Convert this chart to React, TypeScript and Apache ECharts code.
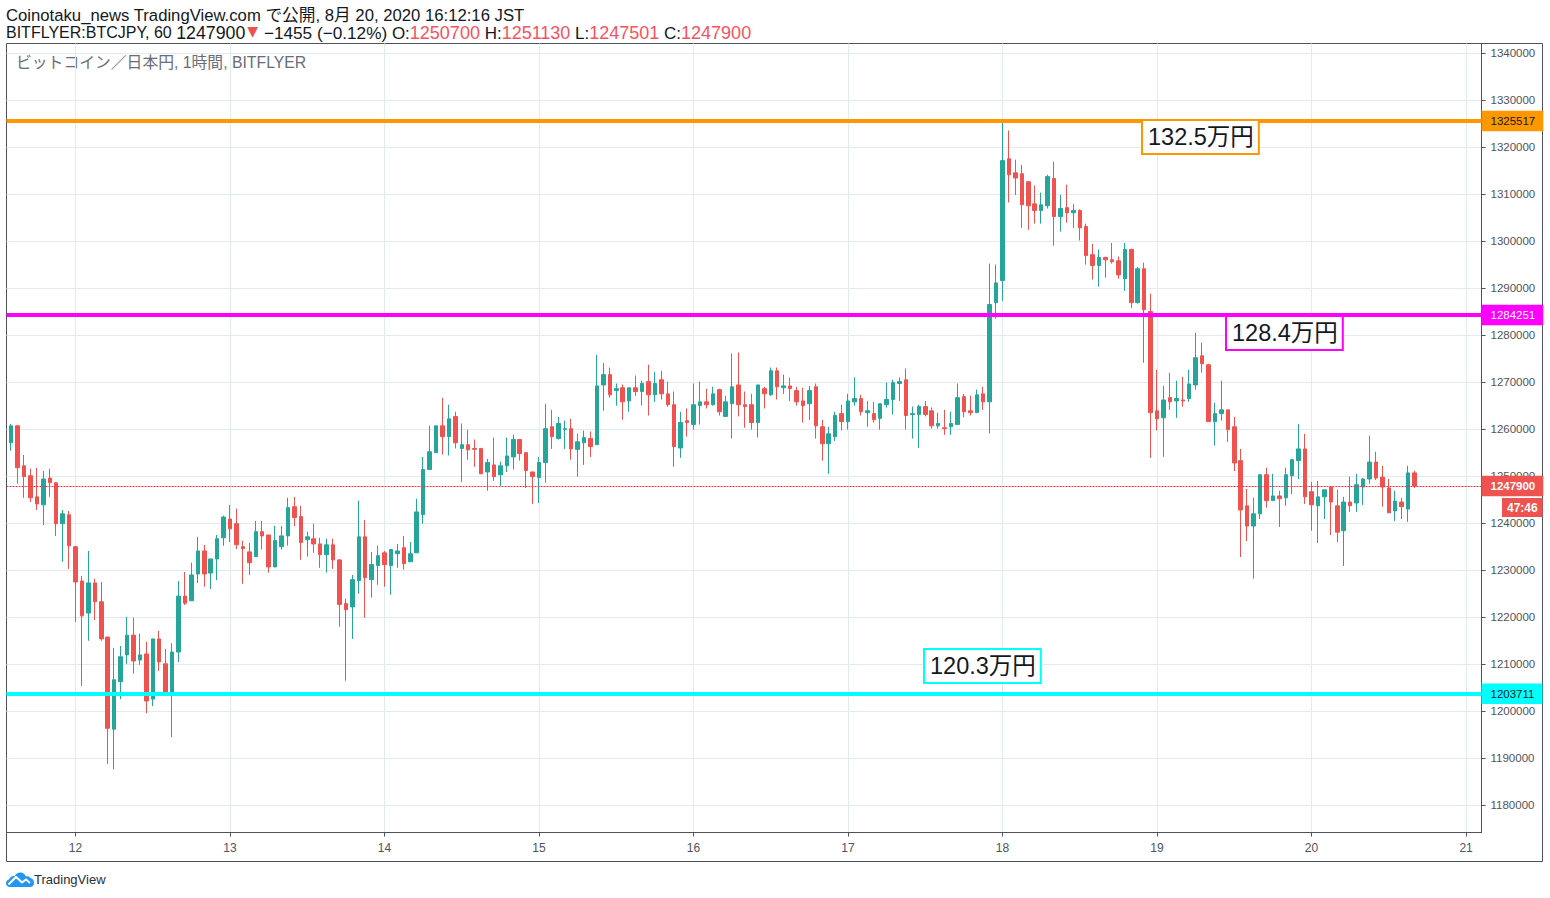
import React, { useEffect, useRef } from "react";
import * as echarts from "echarts";

// [open, close, low, high] in yen, one list per calendar day (1 hour candles)
const aug11 = [[1257100,1260700,1255400,1261100],[1260700,1251800,1248400,1260900],[1252200,1249900,1245400,1254500],[1250100,1245400,1244500,1251600],[1245600,1244100,1242800,1251800],[1243900,1249400,1239600,1251100],[1249600,1248600,1245600,1251600],[1248600,1239900,1237300,1248600],[1239900,1242000,1231800,1242800],[1241800,1235200,1230300,1242600]];
const aug12 = [[1235000,1227500,1219000,1235200],[1227700,1220300,1205400,1228800],[1220900,1227300,1215000,1234100],[1227300,1223300,1219400,1228200],[1223300,1215400,1215000,1227500],[1215800,1196400,1188800,1215800],[1196200,1206700,1187700,1213500],[1206300,1211600,1202600,1213900],[1212000,1216200,1210100,1220100],[1216200,1210700,1208000,1219900],[1210900,1212000,1209900,1216500],[1212200,1202200,1199600,1214800],[1202600,1215400,1201100,1215400],[1215400,1210500,1208600,1217100],[1210100,1203500,1203500,1213300],[1203500,1212600,1194500,1214500],[1212600,1224500,1210500,1227700],[1224500,1223000,1222600,1229600],[1223500,1229000,1223500,1231600],[1229200,1234100,1227300,1237100],[1234100,1229200,1226500,1235400],[1229400,1232400,1226000,1232400],[1232400,1236700,1227900,1237500],[1236900,1241300,1235200,1241600]];
const aug13 = [[1240900,1238800,1236000,1243900],[1239900,1235400,1234500,1243100],[1235000,1234600,1227100,1236300],[1233900,1231600,1229000,1235800],[1232900,1238200,1232900,1240500],[1238200,1237300,1234400,1240500],[1237500,1230700,1229500,1237500],[1230700,1236300,1230700,1239400],[1235000,1237300,1234400,1239400],[1237300,1243300,1235200,1245400],[1243500,1241200,1239400,1245600],[1241400,1235900,1232200,1243700],[1236500,1237100,1232900,1238200],[1236700,1235600,1233700,1239900],[1235600,1233300,1230500,1236900],[1233300,1235400,1229500,1236700],[1235400,1232200,1230300,1236700],[1232200,1222700,1218000,1232400],[1222900,1221600,1206500,1224000],[1222200,1228000,1215400,1229000],[1227800,1237100,1225000,1244800],[1237100,1228400,1219900,1240700],[1228000,1231200,1224200,1233900],[1231000,1233100,1226900,1235200]];
const aug14 = [[1233700,1231200,1226500,1234100],[1231000,1234400,1224800,1234400],[1233500,1234100,1230500,1235600],[1234800,1231400,1230100,1237300],[1231800,1233500,1231800,1236000],[1233700,1242400,1233700,1245200],[1241800,1251400,1239900,1254100],[1251400,1255200,1251400,1260700],[1255000,1260700,1255000,1260700],[1260700,1258400,1254600,1266700],[1258400,1262200,1254400,1265200],[1262700,1257100,1255900,1263700],[1255900,1256700,1248800,1261200],[1256700,1255600,1253500,1259900],[1255900,1255700,1252000,1257800],[1255900,1250500,1250500,1255900],[1250900,1252900,1246900,1253700],[1252400,1249900,1249000,1258200],[1250300,1252200,1247900,1253100],[1252200,1254300,1250900,1258200],[1254100,1257800,1251400,1258800],[1257800,1254800,1253300,1257800],[1255000,1251200,1247500,1255000],[1250900,1249900,1244100,1250900]];
const aug15 = [[1249700,1252900,1244300,1254100],[1252900,1260100,1248600,1265400],[1260500,1258400,1255800,1264100],[1258000,1261200,1257800,1262600],[1259900,1260100,1255800,1261800],[1260100,1255800,1253500,1262200],[1255700,1257300,1249900,1259000],[1257100,1258200,1252400,1259700],[1258000,1256300,1254100,1259500],[1256700,1269200,1256700,1275800],[1269400,1271600,1263900,1274100],[1271600,1267300,1266700,1273100],[1268200,1268600,1265000,1269700],[1268800,1265800,1262000,1269500],[1266000,1268800,1263700,1268800],[1268800,1268000,1267100,1271400],[1268000,1269700,1265000,1270300],[1270100,1267300,1262900,1273700],[1267300,1269700,1265800,1272200],[1270500,1267500,1266300,1272400],[1267500,1265200,1264800,1270100],[1265200,1256300,1252000,1268000],[1256000,1261400,1253900,1263700],[1261800,1261400,1258400,1264400]];
const aug16 = [[1261000,1265200,1259900,1269700],[1265000,1265800,1261000,1270100],[1265800,1265200,1264400,1268600],[1265200,1267500,1265000,1269000],[1268400,1263700,1262900,1268600],[1262700,1265800,1262700,1267100],[1265400,1269000,1258000,1276100],[1269400,1265200,1262700,1276300],[1265200,1264800,1260300,1268000],[1265200,1261400,1259900,1267500],[1261400,1269400,1258200,1269400],[1268600,1267500,1264400,1269000],[1267300,1272400,1267100,1273100],[1272400,1269000,1266300,1273100],[1268800,1269200,1267500,1271600],[1269200,1268600,1266000,1271000],[1268200,1265800,1265000,1269000],[1266000,1265000,1261400,1268800],[1265400,1268200,1262000,1269200],[1269000,1260700,1258000,1269700],[1260500,1256900,1253300,1262000],[1256900,1259000,1250500,1260500],[1258400,1262900,1257500,1263700],[1263300,1261600,1259700,1265200]];
const aug17 = [[1261600,1266000,1259900,1267500],[1265800,1266500,1265000,1271000],[1266500,1263700,1262900,1267300],[1263500,1263900,1260500,1266000],[1263300,1262000,1261400,1265800],[1262300,1265400,1259900,1265400],[1265200,1266300,1264600,1269900],[1266300,1269900,1263100,1270500],[1269700,1270100,1266000,1271000],[1270500,1262900,1259900,1272900],[1263100,1263300,1258000,1264800],[1263100,1264800,1256000,1265200],[1264800,1263100,1262700,1266000],[1263900,1260700,1260100,1264600],[1260700,1261200,1260100,1263500],[1260300,1260100,1258800,1264100],[1260500,1261200,1258800,1263700],[1261000,1266700,1261000,1269700],[1266900,1263700,1262500,1267500],[1263900,1263500,1262900,1267100],[1263500,1267300,1263500,1268400],[1267500,1265800,1264100,1269000],[1265800,1286500,1259100,1295200],[1286900,1291100,1283500,1295000]];
const aug18 = [[1291600,1317100,1287300,1325500],[1317500,1314100,1308200,1323500],[1314500,1313400,1309800,1317300],[1314300,1307700,1302800,1316200],[1312600,1307500,1302400,1312600],[1307900,1306500,1303700,1311800],[1306500,1307700,1303700,1310300],[1307500,1313700,1306900,1314100],[1313300,1305200,1299000,1316900],[1305200,1306900,1302000,1309800],[1307100,1306000,1303900,1312000],[1306000,1306500,1302800,1307900],[1306500,1302800,1300100,1306700],[1303100,1296900,1295000,1303700],[1297100,1294800,1291800,1299400],[1294800,1296500,1290300,1298200],[1296500,1296000,1292200,1296700],[1296000,1295600,1295200,1299600],[1295800,1292800,1292000,1296700],[1292000,1298200,1289400,1299600],[1298200,1286900,1285800,1298400],[1286900,1294100,1286700,1294500],[1294100,1285400,1274100,1295400],[1285000,1263500,1253900,1288800]];
const aug19 = [[1263900,1262200,1259700,1272600],[1262400,1266200,1254100,1269200],[1266700,1265800,1264100,1272000],[1266000,1266500,1262400,1270300],[1266200,1266000,1264800,1271100],[1266500,1269600,1265800,1272600],[1269400,1275200,1268400,1280500],[1275600,1273900,1272000,1278400],[1273700,1261600,1261600,1273900],[1261600,1263300,1256500,1265600],[1263300,1264100,1261800,1270300],[1264100,1259900,1257300,1264100],[1260500,1252800,1251100,1262600],[1253300,1242800,1232800,1255800],[1243700,1239400,1236200,1247300],[1239400,1242000,1228200,1245400],[1242000,1250300,1240900,1250300],[1250300,1244800,1243300,1251800],[1244800,1245800,1244800,1250500],[1245800,1245200,1239200,1246900],[1245400,1250300,1243700,1251800],[1250100,1253500,1246200,1253700],[1253300,1255800,1249400,1261100],[1255800,1245600,1244100,1259000]];
const aug20 = [[1246700,1243900,1238400,1248800],[1243700,1245600,1235800,1249000],[1245600,1247100,1240900,1247100],[1247700,1244500,1237500,1247900],[1243700,1238100,1236000,1247100],[1238400,1244500,1230900,1245600],[1244500,1243700,1242400,1249900],[1244300,1248200,1242400,1250500],[1247700,1249400,1243900,1249600],[1249400,1253000,1248400,1258600],[1253000,1249600,1249200,1255200],[1249800,1247700,1243500,1252200],[1247500,1242200,1242200,1249400],[1242600,1244700,1240500,1246900],[1244500,1243500,1240900,1245400],[1243000,1250700,1240300,1252200],[1250700,1247900,1247501,1251130]];
const candles = [...aug11, ...aug12, ...aug13, ...aug14, ...aug15, ...aug16, ...aug17, ...aug18, ...aug19, ...aug20];

const firstCandleHour = -10; // hours after Aug 12 00:00
const priceTicks = [1340000,1330000,1320000,1310000,1300000,1290000,1280000,1270000,1260000,1250000,1240000,1230000,1220000,1210000,1200000,1190000,1180000];
const dayTicks = [0,24,48,72,96,120,144,168,192,216];
const dayLabels = ["12","13","14","15","16","17","18","19","20","21"];

const orangeLevel = 1325517;
const magentaLevel = 1284251;
const cyanLevel = 1203711;
const lastPrice = 1247900;

const UP = "#26a69a";
const DOWN = "#ef5350";
const FRAME = "#50535e";
const GRID = "#e1ecf2";
const LABEL = "#50535e";
const INK = "#131722";
const QUOTE = "#f7525f";
const FONT = '"Liberation Sans", "Noto Sans CJK JP", sans-serif';

const tradingViewCloud = "M4 18 C1.5 18 0 16.2 0 14.3 C0 12.4 1.3 11 3 10.6 C4 7.8 6.5 6.6 8.6 7.2 C10 4.2 12.8 3 15.4 3.6 C17.6 4.1 19.2 5.6 19.8 7.6 C21.4 6.9 23.4 7.4 24.4 9 C26.4 9.4 28 11.2 28 14 C28 16.4 26.4 18 24 18 Z";
echarts.graphic.registerShape("tvCloud", echarts.graphic.extendPath(tradingViewCloud, {}));

function hLevel(value: number, color: string, textColor: string) {
  return {
    yAxis: value,
    lineStyle: { color, width: 4, type: "solid" as const },
    label: {
      show: true, position: "end" as const, distance: 0, formatter: String(value),
      color: textColor, backgroundColor: color, fontFamily: FONT, fontSize: 11.5,
      padding: [5, 8, 4, 9],
    },
  };
}

function noteBox(x: number, y: number, text: string, color: string) {
  return {
    type: "text", x, y, z: 20,
    style: {
      text, fontFamily: FONT, fontSize: 23.5, fill: INK,
      backgroundColor: "#ffffff", borderColor: color, borderWidth: 2,
      padding: [3, 4, 4, 5], lineHeight: 25,
    },
  };
}

export default function App() {
  const ref = useRef<HTMLDivElement>(null);
  useEffect(() => {
    document.body.style.margin = "0";
    const chart = echarts.init(ref.current!, undefined, { renderer: "svg" });
    chart.setOption({
      animation: false,
      backgroundColor: "#ffffff",
      grid: { left: 6.5, right: 68.5, top: 43.5, bottom: 65.5 },
      xAxis: {
        type: "value",
        min: -10.72,
        max: 218.4,
        axisLine: { onZero: false, lineStyle: { color: FRAME, width: 1 } },
        axisTick: { show: true, length: 4, lineStyle: { color: FRAME }, customValues: dayTicks },
        axisLabel: {
          customValues: dayTicks, margin: 9, color: LABEL, fontFamily: FONT, fontSize: 12,
          formatter: (v: number) => dayLabels[dayTicks.indexOf(v)] ?? "",
        },
        splitLine: { show: true, lineStyle: { color: GRID, width: 1 } },
      },
      yAxis: {
        type: "value",
        position: "right",
        min: 1174234,
        max: 1342000,
        axisLine: { show: true, onZero: false, lineStyle: { color: FRAME, width: 1 } },
        axisTick: { show: true, length: 4, lineStyle: { color: FRAME }, customValues: priceTicks },
        axisLabel: {
          customValues: priceTicks, margin: 9, color: LABEL, fontFamily: FONT, fontSize: 11.5,
          padding: [2, 0, 0, 0],
          formatter: (v: number) => String(v),
        },
        splitLine: { show: true, lineStyle: { color: GRID, width: 1 } },
      },
      series: [
        {
          type: "candlestick",
          data: candles.map((c, i) => [i + firstCandleHour, c[0], c[1], c[2], c[3]]),
          encode: { x: 0, y: [1, 2, 3, 4] },
          barWidth: 4,
          itemStyle: { color: UP, color0: DOWN, borderColor: UP, borderColor0: DOWN, borderWidth: 1 },
          markLine: {
            silent: true,
            symbol: "none",
            animation: false,
            data: [
              {
                yAxis: lastPrice,
                lineStyle: { color: "#f23645", width: 1, type: [2, 1] },
                label: {
                  show: true, position: "end", distance: 0, formatter: String(lastPrice),
                  color: "#ffffff", backgroundColor: DOWN, fontFamily: FONT, fontSize: 11.5, fontWeight: "bold",
                  padding: [5, 8, 4, 9],
                },
              },
              hLevel(orangeLevel, "#ff9800", INK),
              hLevel(magentaLevel, "#ff00ff", "#ffffff"),
              hLevel(cyanLevel, "#00ffff", INK),
            ],
          },
        },
      ],
      graphic: [
        { type: "rect", z: 0, shape: { x: 6.5, y: 43.5, width: 1536, height: 818 }, style: { fill: "none", stroke: FRAME, lineWidth: 1 } },
        {
          type: "text", x: 6, y: 7,
          style: { text: "Coinotaku_news TradingView.com で公開, 8月 20, 2020 16:12:16 JST", fontFamily: FONT, fontSize: 16.7, fill: INK },
        },
        {
          type: "text", x: 6, y: 24,
          style: {
            text: "BITFLYER:BTCJPY, 60 {d|1247900}{t|▼}{m| −1455 (−0.12%)}{l| O:}{r|1250700}{l| H:}{r|1251130}{l| L:}{r|1247501}{l| C:}{r|1247900}",
            fontFamily: FONT, fontSize: 16, fill: INK,
            rich: {
              d: { fontFamily: FONT, fontSize: 17.8, fill: INK, color: INK },
              m: { fontFamily: FONT, fontSize: 17.2, fill: INK, color: INK },
              l: { fontFamily: FONT, fontSize: 17, fill: INK, color: INK },
              r: { fontFamily: FONT, fontSize: 18, fill: QUOTE, color: QUOTE },
              t: { fontFamily: "DejaVu Sans", fontSize: 14, fill: DOWN, color: DOWN, verticalAlign: "top", padding: [0, 1, 0, 2] },
            },
          },
        },
        {
          type: "text", x: 16, y: 55,
          style: { text: "ビットコイン／日本円, 1時間, BITFLYER", fontFamily: FONT, fontSize: 15.8, fill: "#6a6d78" },
        },
        noteBox(1143, 121, "132.5万円", "#ff9800"),
        noteBox(1227, 317, "128.4万円", "#ff00ff"),
        noteBox(925, 650, "120.3万円", "#00ffff"),
        {
          type: "text", x: 1502, y: 498, z: 20,
          style: {
            text: "47:46", fontFamily: FONT, fontSize: 12, fontWeight: "bold", fill: "#ffffff",
            backgroundColor: DOWN, padding: [4, 5, 3, 5],
          },
        },
        { type: "tvCloud", x: 6, y: 869, style: { fill: "#2196f3" } },
        {
          type: "polyline", x: 6, y: 869,
          shape: { points: [[2.5, 15.5], [10, 8], [16, 13.5], [20, 10.5], [24, 14]] },
          style: { fill: "none", stroke: "#ffffff", lineWidth: 2 },
        },
        { type: "text", x: 34, y: 873, style: { text: "TradingView", fontFamily: FONT, fontSize: 13, fill: "#2a2e39" } },
      ],
    });
    return () => chart.dispose();
  }, []);
  return <div ref={ref} style={{ position: "absolute", left: 0, top: 0, width: 1550, height: 898 }} />;
}
